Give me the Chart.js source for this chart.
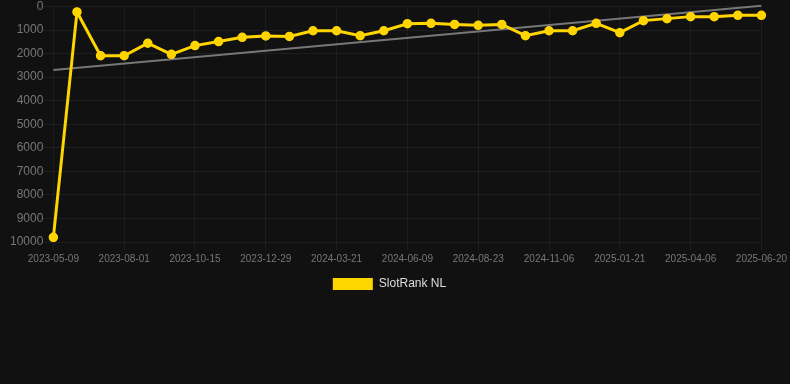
<!DOCTYPE html>
<html>
<head>
<meta charset="utf-8">
<script src="https://cdn.jsdelivr.net/npm/chart.js@4"></script>
<style>
  html, body { margin: 0; padding: 0; background: #111111; }
  #wrap { width: 790px; height: 300px; position: relative; }
</style>
</head>
<body>
<div id="wrap"><canvas id="c"></canvas></div>
<script>
const labels = [
  "2023-05-09","2023-06-06","2023-07-04","2023-08-01","2023-08-26","2023-09-20",
  "2023-10-15","2023-11-09","2023-12-04","2023-12-29","2024-01-26","2024-02-23",
  "2024-03-21","2024-04-17","2024-05-13","2024-06-09","2024-07-04","2024-07-29",
  "2024-08-23","2024-09-17","2024-10-12","2024-11-06","2024-12-01","2024-12-26",
  "2025-01-21","2025-02-15","2025-03-12","2025-04-06","2025-05-01","2025-05-26",
  "2025-06-20"
];
const rankValues = [
  9800, 230, 2090, 2090, 1560, 2030, 1660, 1490, 1310, 1250, 1270,
  1030, 1030, 1240, 1030, 730, 715, 760, 800, 760, 1240,
  1030, 1030, 715, 1110, 600, 515, 430, 430, 375, 375
];
const trendStart = 2700;
const trendEnd = -30;
const trendValues = labels.map((_, i) => i === 0 ? trendStart : (i === labels.length - 1 ? trendEnd : null));
const yTicks = [0,1000,2000,3000,4000,5000,6000,7000,8000,9000,10000];

const FONT = 'Liberation Sans, Arial, sans-serif';

new Chart(document.getElementById('c'), {
  type: 'line',
  data: {
    labels: labels,
    datasets: [
      {
        label: 'SlotRank NL',
        data: rankValues,
        borderColor: '#FFD500',
        backgroundColor: '#FFD500',
        borderWidth: 3,
        pointRadius: 4,
        pointBorderWidth: 1.5,
        pointHoverRadius: 5,
        pointBackgroundColor: '#FFD500',
        pointBorderColor: '#FFD500',
        tension: 0,
        order: 1
      },
      {
        label: 'trend',
        data: trendValues,
        spanGaps: true,
        borderColor: '#777777',
        borderWidth: 2,
        pointRadius: 0,
        clip: false,
        order: 2
      }
    ]
  },
  options: {
    responsive: true,
    maintainAspectRatio: false,
    animation: false,
    layout: { padding: { left: 10, right: 21, top: 1, bottom: 0 } },
    plugins: {
      legend: {
        position: 'bottom',
        labels: {
          color: '#dddddd',
          font: { family: FONT, size: 12 },
          boxWidth: 40,
          boxHeight: 12,
          filter: (item) => item.text !== 'trend',
          generateLabels: (chart) => Chart.defaults.plugins.legend.labels.generateLabels(chart).map(it => Object.assign(it, { lineWidth: 0 }))
        }
      },
      tooltip: { enabled: false }
    },
    scales: {
      x: {
        grid: { color: 'rgba(255,255,255,0.05)', drawTicks: true },
        border: { display: false },
        ticks: {
          color: '#777777',
          font: { family: FONT, size: 10 },
          autoSkip: false,
          maxRotation: 0,
          callback: function(val, idx) { return idx % 3 === 0 ? labels[idx] : null; }
        }
      },
      y: {
        reverse: true,
        min: 0,
        max: 10000,
        afterBuildTicks: (axis) => { axis.ticks = yTicks.map(v => ({ value: v })); },
        grid: { color: 'rgba(255,255,255,0.05)', tickLength: 10 },
        border: { display: false },
        ticks: {
          color: '#777777',
          padding: 0,
          font: { family: FONT, size: 12, lineHeight: 1 },
          callback: (v) => String(v)
        }
      }
    }
  }
});
</script>
</body>
</html>
